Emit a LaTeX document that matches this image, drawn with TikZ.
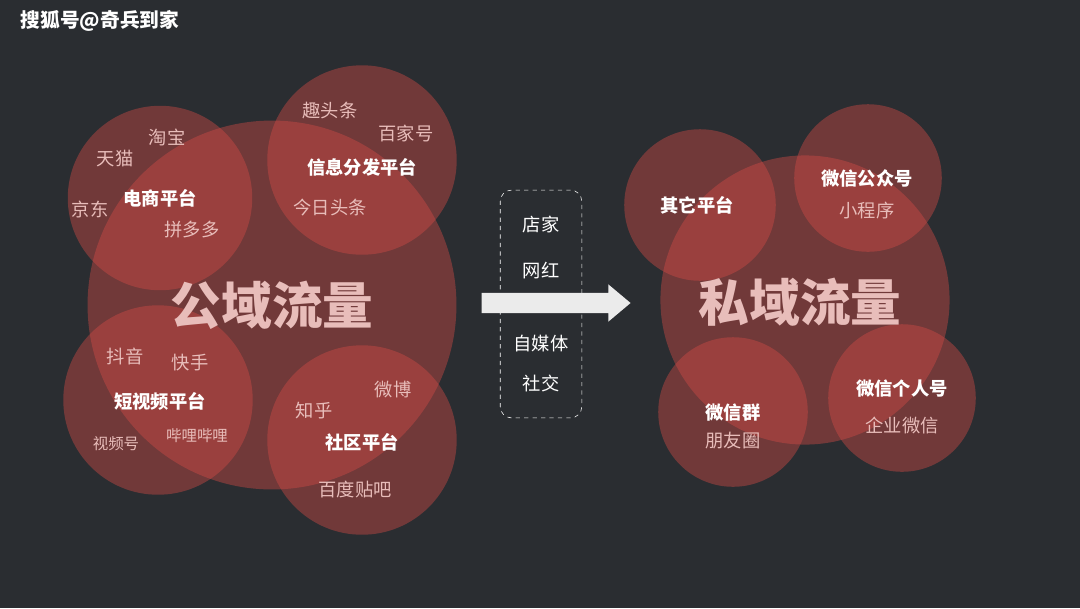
\documentclass[tikz,border=0pt]{standalone}
\usepackage{fontspec}
\setmainfont{Noto Sans CJK SC}
\usetikzlibrary{shapes.arrows}
\definecolor{bg}{HTML}{2A2D31}
\definecolor{cr}{HTML}{D44A46}
\definecolor{soft}{HTML}{E8BDBA}
\tikzset{
 blob/.style={circle,fill=cr,fill opacity=0.42,draw=none,inner sep=0,minimum size=#1*0.709pt},
 lab/.style={text=white,font=\bfseries\fontsize{13}{13}\selectfont},
 sub/.style={text=soft,font=\fontsize{13}{13}\selectfont},
 big/.style={text=soft,font=\bfseries\fontsize{36}{36}\selectfont}
}
\begin{document}
\begin{tikzpicture}[x=0.025cm,y=-0.025cm]
\fill[bg] (0,0) rectangle (1080,608);
\useasboundingbox (0,0) rectangle (1080,608);
\node[text=white,font=\bfseries\fontsize{14}{14}\selectfont] (t) at (100,21) {搜狐号@奇兵到家};
% left
\node[blob=370] (L) at (272,305) {};
\node[blob=185] (c1) at (160,198) {};
\node[blob=190] (c2) at (362,160) {};
\node[blob=190] (c3) at (158,400) {};
\node[blob=190] (c4) at (362,440) {};
\node[big] (Lt) at (272,305) {公域流量};
\node[lab] (a1) at (160,198) {电商平台};
\node[sub] (a2) at (167,137) {淘宝};
\node[sub] (a3) at (115,159) {天猫};
\node[sub] (a4) at (90,209) {京东};
\node[sub] (a5) at (192,230) {拼多多};
\node[lab] (b1) at (362,167) {信息分发平台};
\node[sub] (b2) at (330,111) {趣头条};
\node[sub] (b3) at (406,133) {百家号};
\node[sub] (b4) at (330,208) {今日头条};
\node[lab] (d1) at (160,401) {短视频平台};
\node[sub] (d2) at (125,356) {抖音};
\node[sub] (d3) at (190,363) {快手};
\node[sub,font=\fontsize{11}{11}\selectfont] (d4) at (116,444) {视频号};
\node[sub,font=\fontsize{11}{11}\selectfont] (d5) at (197,436) {哔哩哔哩};
\node[lab] (e1) at (362,442) {社区平台};
\node[sub] (e2) at (393,390) {微博};
\node[sub] (e3) at (314,411) {知乎};
\node[sub] (e4) at (355,490) {百度贴吧};
% middle
\node[draw=white!80,dashed,rounded corners=8,minimum width=58pt,minimum height=162pt] (box) at (541,304) {};
\node[sub,text=white] (m1) at (541,224) {店家};
\node[sub,text=white] (m2) at (541,271) {网红};
\node[sub,text=white] (m3) at (541,344) {自媒体};
\node[sub,text=white] (m4) at (541,383) {社交};
\node[single arrow,fill=white!92!black,draw=none,minimum height=106pt,inner xsep=0pt,inner ysep=7pt,single arrow head extend=6pt,single arrow tip angle=80] (arr) at (550,303) {};
% right
\node[blob=290] (R) at (805,300) {};
\node[blob=152] (r1) at (700,205) {};
\node[blob=148] (r2) at (868,178) {};
\node[blob=150] (r3) at (733,412) {};
\node[blob=148] (r4) at (902,398) {};
\node[big] (Rt) at (800,302) {私域流量};
\node[lab] (s1) at (697,205) {其它平台};
\node[lab] (s2) at (867,178) {微信公众号};
\node[sub] (s3) at (867,211) {小程序};
\node[lab] (s4) at (733,413) {微信群};
\node[sub] (s5) at (733,441) {朋友圈};
\node[lab] (s6) at (902,389) {微信个人号};
\node[sub] (s7) at (902,425) {企业微信};
\end{tikzpicture}
\end{document}
